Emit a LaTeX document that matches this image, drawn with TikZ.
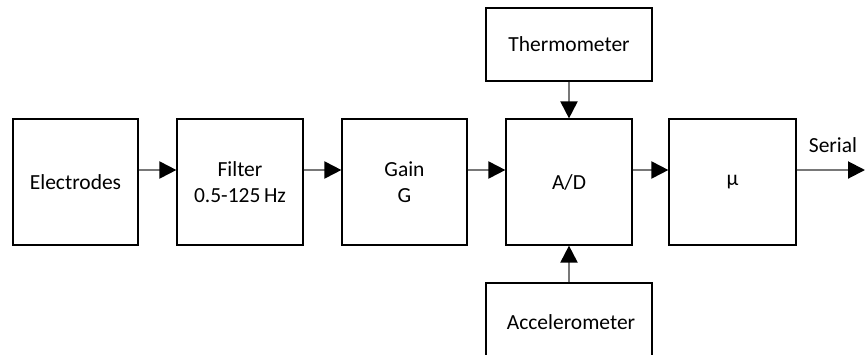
\documentclass[tikz,border=0pt]{standalone}
\usepackage{fontspec}
\setmainfont{Carlito}
\usetikzlibrary{arrows.meta}

\definecolor{wire}{RGB}{120,120,120}

\tikzset{
  block/.style={draw=black, line width=1.2pt, fill=white, inner sep=0pt,
    align=center, font=\fontsize{21.5}{26}\selectfont},
  conn/.style={draw=wire, line width=2pt,
    -{Triangle[length=17pt,width=17pt,color=black]}},
  lbl/.style={inner sep=0pt, font=\fontsize{21.5}{26}\selectfont}
}

\begin{document}
\begin{tikzpicture}[x=1pt,y=-1pt]
  \clip (0,0) rectangle (865,354);

  % main signal chain
  \node[block, minimum width=125pt, minimum height=126pt] (el) at (75.5,182) {Electrodes};
  \node[block, minimum width=126pt, minimum height=126pt] (fi) at (240,182) {Filter\\0.5-125\,Hz};
  \node[block, minimum width=125pt, minimum height=126pt] (ga) at (404.5,182) {Gain\\G};
  \node[block, minimum width=126pt, minimum height=126pt] (ad) at (569,182) {A/D};
  \node[block, minimum width=127pt, minimum height=126pt] (mu) at (732.5,182) {μ};

  % sensors feeding the converter
  \node[block, minimum width=166pt, minimum height=73pt] (th) at (569,44.5) {Thermometer};
  \node[block, minimum width=166pt, minimum height=73pt, text depth=0pt] (ac) at (569,319.5) {};
  \node[lbl] (actext) at (571,322) {Accelerometer};

  % signal line level and serial output end
  \coordinate (row) at (0,170);
  \coordinate (out) at (865,170);

  \draw[conn] (el.east |- row) -- (fi.west |- row);
  \draw[conn] (fi.east |- row) -- (ga.west |- row);
  \draw[conn] (ga.east |- row) -- (ad.west |- row);
  \draw[conn] (ad.east |- row) -- (mu.west |- row);
  \draw[conn] (mu.east |- row) -- (out);
  \node[lbl] (serial) at (833,145) {Serial};

  \draw[conn] (th.south) -- (ad.north);
  \draw[conn] (ac.north) -- (ad.south);
\end{tikzpicture}
\end{document}
